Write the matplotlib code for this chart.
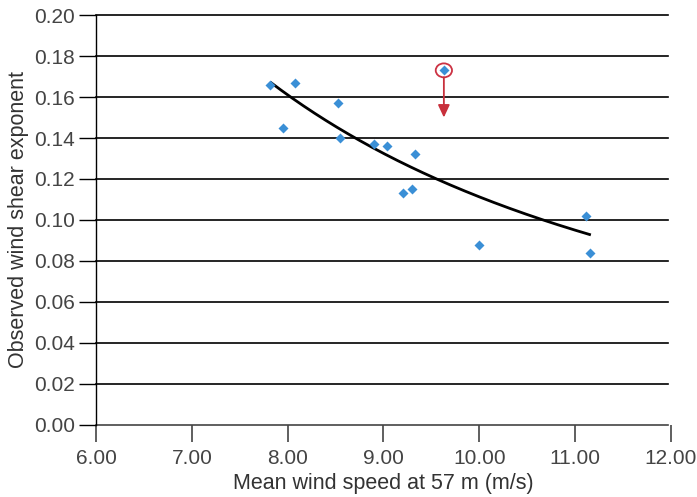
import numpy as np
import matplotlib
matplotlib.use("Agg")
import matplotlib.pyplot as plt
from matplotlib.patches import Ellipse

plt.rcParams['font.family'] = ['Liberation Sans', 'DejaVu Sans']

# observed points (mean wind speed, shear exponent)
speed = [7.82, 7.95, 8.08, 8.53, 8.55, 8.90, 9.04, 9.33, 9.20, 9.30, 10.00, 11.11, 11.15]
shear = [0.166, 0.145, 0.167, 0.157, 0.140, 0.137, 0.136, 0.132, 0.113, 0.115, 0.088, 0.102, 0.084]

# flagged outlier
out_speed = 9.63
out_shear = 0.173
out_arrow_to = 0.150

# power-law trendline y = a * x^b, drawn between these speeds
fit_a = 5.04
fit_b = -1.656
fit_range = (7.83, 11.15)

x_ticks = [6, 7, 8, 9, 10, 11, 12]
y_ticks = [0.00, 0.02, 0.04, 0.06, 0.08, 0.10, 0.12, 0.14, 0.16, 0.18, 0.20]

fig = plt.figure(figsize=(6.97, 4.97), dpi=100)
ax = fig.add_axes([0.1377, 0.1449, 0.825, 0.8249])

ax.set_xlim(6, 12)
ax.set_ylim(0, 0.20)

# horizontal grid
for yv in y_ticks:
    c = '#444444' if yv == 0 else 'black'
    ax.plot([6, 11.97], [yv, yv], color=c, lw=1.2, zorder=1, clip_on=False)

for s in ['top', 'right', 'bottom']:
    ax.spines[s].set_visible(False)
ax.spines['left'].set_color('black')
ax.spines['left'].set_linewidth(1.0)

ax.set_xticks(x_ticks)
ax.set_xticklabels([f"{v:.2f}" for v in x_ticks])
ax.set_yticks(y_ticks)
ax.set_yticklabels([f"{v:.2f}" for v in y_ticks])
ax.tick_params(axis='x', length=12, width=1.2, color='#444444', labelsize=15,
               labelcolor='#444444', pad=5)
ax.tick_params(axis='y', length=12, width=1.0, color='black', labelsize=15,
               labelcolor='#444444', pad=3)

# trendline
xf = np.linspace(fit_range[0], fit_range[1], 200)
ax.plot(xf, fit_a * xf ** fit_b, color='black', lw=2.0, zorder=3)

# points
ax.plot(speed, shear, 'D', color='#3a8fd6', markersize=5.5, mec='none', zorder=4)
ax.plot([out_speed], [out_shear], 'D', color='#3a8fd6', markersize=5.5, mec='none', zorder=4)

# outlier highlight
ax.add_patch(Ellipse((out_speed, out_shear), width=0.17, height=0.0068, fill=False,
                     ec='#cc3344', lw=1.3, zorder=5))
ax.annotate('', xy=(out_speed, out_arrow_to), xytext=(out_speed, out_shear - 0.0034),
            arrowprops=dict(arrowstyle='-|>,head_length=0.75,head_width=0.35',
                            color='#c8303c', lw=1.3, shrinkA=0, shrinkB=0), zorder=5)

ax.set_xlabel('Mean wind speed at 57 m (m/s)', fontsize=15.5, color='#333333', labelpad=4)
ax.set_ylabel('Observed wind shear exponent', fontsize=15.5, color='#333333', labelpad=4)

fig.savefig('out.png', dpi=100)
